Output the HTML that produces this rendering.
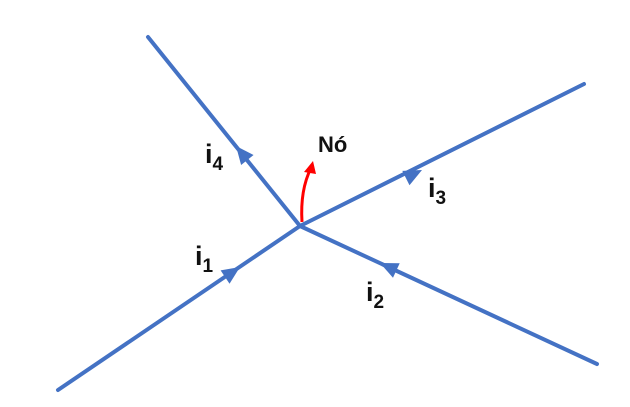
<!DOCTYPE html>
<html><head><style>body{margin:0;background:#fff}svg{display:block}text{font-family:"Liberation Sans",sans-serif;font-weight:bold;fill:#111}</style></head>
<body>
<svg width="630" height="407" viewBox="0 0 630 407">
<g stroke="#4472C4" stroke-width="4" stroke-linecap="round">
<line x1="300" y1="226" x2="148" y2="37"/>
<line x1="300" y1="226" x2="584" y2="84"/>
<line x1="300" y1="226" x2="58" y2="390"/>
<line x1="300" y1="226" x2="597" y2="364"/>
</g>
<g fill="#4472C4">
<polygon points="0,0 -18,-8 -18,8" transform="translate(236,146) rotate(231)"/>
<polygon points="0,0 -18,-8 -18,8" transform="translate(422,170) rotate(-26.6)"/>
<polygon points="0,0 -18,-8 -18,8" transform="translate(240,267) rotate(-34)"/>
<polygon points="0,0 -18,-8 -18,8" transform="translate(380,263) rotate(204.8)"/>
</g>
<path d="M302,222 Q300,190 311,168" stroke="#FF0000" stroke-width="3" fill="none"/>
<polygon points="313,161 304,172 316,174" fill="#FF0000"/>
<text x="318" y="152" font-size="22">Nó</text>
<text x="205" y="163" font-size="27">i<tspan font-size="19" dy="7">4</tspan></text>
<text x="428" y="197" font-size="27">i<tspan font-size="19" dy="7">3</tspan></text>
<text x="195" y="265" font-size="27">i<tspan font-size="19" dy="7">1</tspan></text>
<text x="366" y="301" font-size="27">i<tspan font-size="19" dy="7">2</tspan></text>
</svg>
</body></html>
